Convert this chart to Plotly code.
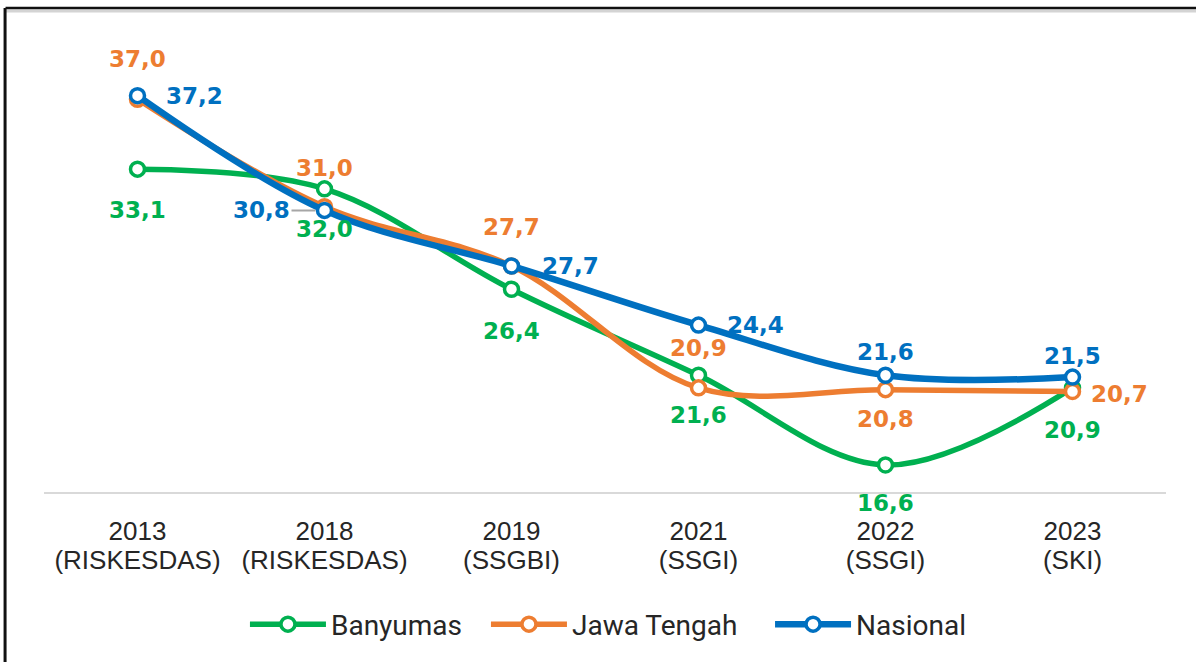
import plotly.graph_objects as go

# ---------------- data ----------------
years = ["2013", "2018", "2019", "2021", "2022", "2023"]
sources = ["(RISKESDAS)", "(RISKESDAS)", "(SSGBI)", "(SSGI)", "(SSGI)", "(SKI)"]
categories = [f"{y} {s}" for y, s in zip(years, sources)]
tick_labels = [f"<span style='font-size:26px'>{y}<br>{s}</span>" for y, s in zip(years, sources)]

banyumas = [33.1, 32.0, 26.4, 21.6, 16.6, 20.9]
jawa_tengah = [37.0, 31.0, 27.7, 20.9, 20.8, 20.7]
nasional = [37.2, 30.8, 27.7, 24.4, 21.6, 21.5]

series_names = ["Banyumas", "Jawa Tengah", "Nasional"]

# ---------------- styles ----------------
colors = ["#00B050", "#ED7D31", "#0070C0"]
widths = [5.5, 5.5, 6.5]
legend_ids = ["legend", "legend2", "legend3"]
legend_x = [0.1791, 0.3939, 0.6471]

# label offsets (px) per point: (xshift, yshift)
offsets = [
    [(0, -41), (0, -40), (0, -42), (0, -40), (0, -38), (0, -42)],
    [(0, 40), (0, 39), (0, 39), (0, 40), (0, -29), (47, -3)],
    [(57, 0), (-63, 0), (59, 0), (57, 0), (0, 23), (0, 21)],
]
leader = [
    [False] * 6,
    [False] * 6,
    [False, True, False, False, False, False],
]

all_series = [banyumas, jawa_tengah, nasional]

fig = go.Figure()
for name, vals, col, w, lg in zip(series_names, all_series, colors, widths, legend_ids):
    fig.add_trace(go.Scatter(
        x=categories, y=vals, name=name, mode="lines+markers",
        line=dict(color=col, width=w, shape="spline", smoothing=1.0),
        marker=dict(symbol="circle", size=14, color="white",
                    line=dict(color=col, width=3.5)),
        hoverinfo="skip", legend=lg,
    ))

annotations = []
for vals, col, offs, lead in zip(all_series, colors, offsets, leader):
    for cat, v, (dx, dy), ld in zip(categories, vals, offs, lead):
        txt = f"{v:.1f}".replace(".", ",")
        font = dict(family="DejaVu Sans", size=23, color=col, weight="bold")
        if ld:
            annotations.append(dict(
                x=cat, y=v, xref="x", yref="y", text=txt, font=font,
                showarrow=True, ax=dx, ay=-dy, arrowhead=0, arrowwidth=2,
                arrowcolor="#A6A6A6", standoff=9, startstandoff=0,
            ))
        else:
            annotations.append(dict(
                x=cat, y=v, xref="x", yref="y", text=txt, font=font,
                showarrow=False, xshift=dx, yshift=dy,
            ))

# frame (decorative border of the original picture)
shapes = [
    dict(type="line", xref="paper", yref="paper", x0=-0.0343, x1=1.05,
         y0=1.0190, y1=1.0190, line=dict(color="#D4D4D4", width=3)),
    dict(type="line", xref="paper", yref="paper", x0=-0.0343, x1=1.05,
         y0=1.0253, y1=1.0253, line=dict(color="#111111", width=2.5)),
    dict(type="line", xref="paper", yref="paper", x0=-0.0347, x1=-0.0347,
         y0=1.0253, y1=-0.40, line=dict(color="#111111", width=3)),
]

legend_style = dict(orientation="h", xanchor="left", y=-0.2806, yanchor="middle",
                    font=dict(family="Roboto", size=28, color="#262626"),
                    itemwidth=76, bgcolor="rgba(0,0,0,0)")

layout_legends = {lg: dict(legend_style, x=lx) for lg, lx in zip(legend_ids, legend_x)}

fig.update_layout(
    width=1196, height=662,
    margin=dict(l=44, r=30, t=20, b=168),
    paper_bgcolor="white", plot_bgcolor="white",
    showlegend=True,
    annotations=annotations,
    shapes=shapes,
    xaxis=dict(type="category", range=[-0.5, 5.5], showgrid=False,
               showline=True, linecolor="#D9D9D9", linewidth=2,
               ticks="", ticklabelstandoff=19,
               tickmode="array", tickvals=categories, ticktext=tick_labels,
               tickfont=dict(family="Liberation Sans", size=22.3, color="#262626"),
               zeroline=False, fixedrange=True),
    yaxis=dict(range=[15.09, 41.42], visible=False, showgrid=False,
               zeroline=False, fixedrange=True),
    **layout_legends,
)

fig.write_html("out.html", config={"displayModeBar": False},
               post_script="document.body.style.margin='0';")
